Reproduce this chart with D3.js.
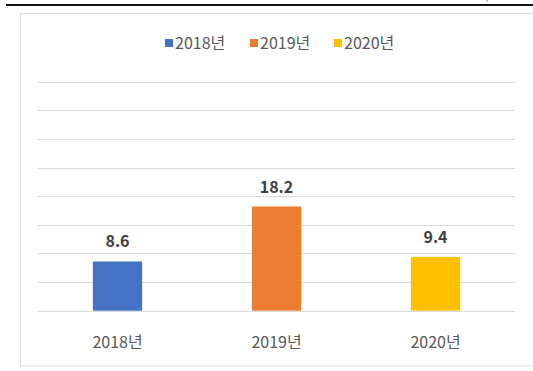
<!DOCTYPE html>
<html>
<head>
<meta charset="utf-8">
<script src="https://cdn.jsdelivr.net/npm/d3@7"></script>
<style>
  body { margin: 0; background: #fff; }
  text { font-family: "Noto Sans CJK KR", "Noto Sans", sans-serif; }
</style>
</head>
<body>
<script>
// data
const categories = ["2018년", "2019년", "2020년"];
const values = [8.6, 18.2, 9.4];
const colors = ["#4472C4", "#ED7D31", "#FFC000"];
const yTicks = [0, 5, 10, 15, 20, 25, 30, 35, 40];

const width = 533;
const height = 371;
const plot = {left: 38, right: 515, top: 81.7, bottom: 310.7};

const svg = d3.select("body").append("svg").attr("width", width).attr("height", height);

// page rule at the top
svg.append("line")
  .attr("x1", 6).attr("x2", width).attr("y1", 5).attr("y2", 5)
  .attr("stroke", "#111").attr("stroke-width", 2);
svg.append("line")
  .attr("x1", 487).attr("x2", 487).attr("y1", 0).attr("y2", 2)
  .attr("stroke", "#999").attr("stroke-width", 1);

// chart frame
svg.append("rect")
  .attr("x", 20.5).attr("y", 13.5)
  .attr("width", 520).attr("height", 352.5)
  .attr("fill", "#fff").attr("stroke", "#d9d9d9");

const xScale = d3.scaleBand().domain(categories)
  .range([plot.left, plot.right]).paddingInner(0.69).paddingOuter(0.345);
const yScale = d3.scaleLinear().domain([0, 40]).range([plot.bottom, plot.top]);

// gridlines
svg.append("g").selectAll("line")
  .data(yTicks).enter().append("line")
  .attr("x1", plot.left).attr("x2", plot.right)
  .attr("y1", d => Math.round(yScale(d)) + 0.5)
  .attr("y2", d => Math.round(yScale(d)) + 0.5)
  .attr("stroke", "#d9d9d9").attr("stroke-width", 1);

// bars
svg.append("g").selectAll("rect")
  .data(values).enter().append("rect")
  .attr("x", (d, i) => xScale(categories[i]))
  .attr("y", d => yScale(d))
  .attr("width", xScale.bandwidth())
  .attr("height", d => yScale(0) - yScale(d))
  .attr("fill", (d, i) => colors[i]);

// value labels
svg.append("g").selectAll("text")
  .data(values).enter().append("text")
  .attr("x", (d, i) => xScale(categories[i]) + xScale.bandwidth() / 2)
  .attr("y", d => yScale(d) - 14)
  .attr("text-anchor", "middle")
  .attr("font-size", 16).attr("font-weight", "bold")
  .attr("fill", "#404040")
  .text(d => d.toFixed(1));

// category axis
const xAxis = d3.axisBottom(xScale).tickSize(0).tickPadding(0);
const gx = svg.append("g")
  .attr("transform", "translate(0," + plot.bottom + ")")
  .call(xAxis);
gx.select(".domain").remove();
gx.selectAll("text")
  .attr("dy", 0).attr("y", 37.6)
  .attr("font-size", 16).attr("fill", "#595959")
  .style("font-family", "'Noto Sans CJK KR', sans-serif");

// legend
const legendX = [165, 250, 334];
const legend = svg.append("g").selectAll("g")
  .data(categories).enter().append("g")
  .attr("transform", (d, i) => "translate(" + legendX[i] + ",39)");
legend.append("rect")
  .attr("width", 8).attr("height", 8)
  .attr("fill", (d, i) => colors[i]);
legend.append("text")
  .attr("x", 10).attr("y", 10.3)
  .attr("font-size", 16).attr("fill", "#595959")
  .text(d => d);
</script>
</body>
</html>
